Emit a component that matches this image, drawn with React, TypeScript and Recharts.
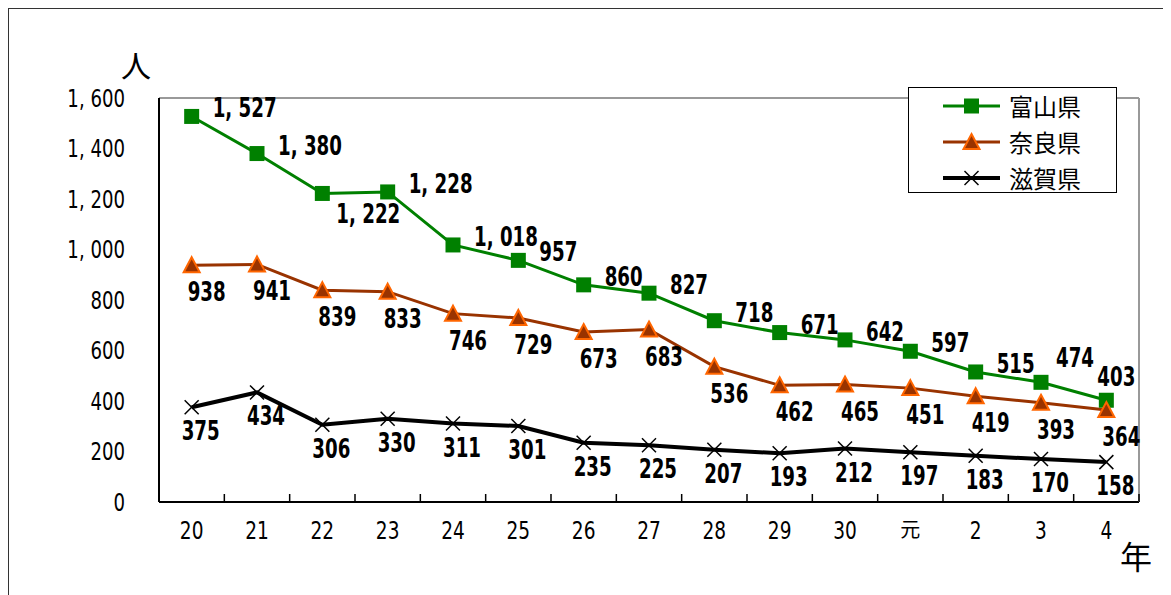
import { LineChart, Line, XAxis, YAxis, CartesianGrid, ReferenceLine, LabelList } from 'recharts';

const years = ['20', '21', '22', '23', '24', '25', '26', '27', '28', '29', '30', '元', '2', '3', '4'];
const toyama = [1527, 1380, 1222, 1228, 1018, 957, 860, 827, 718, 671, 642, 597, 515, 474, 403];
const nara = [938, 941, 839, 833, 746, 729, 673, 683, 536, 462, 465, 451, 419, 393, 364];
const shiga = [375, 434, 306, 330, 311, 301, 235, 225, 207, 193, 212, 197, 183, 170, 158];
const yTicks = [0, 200, 400, 600, 800, 1000, 1200, 1400, 1600];
const seriesNames = ['富山県', '奈良県', '滋賀県'];

const data = years.map((y, i) => ({ year: y, toyama: toyama[i], nara: nara[i], shiga: shiga[i] }));

const FONT = "'DejaVu Sans Condensed', 'DejaVu Sans', 'Noto Sans CJK JP', sans-serif";
const CJK = "'Noto Sans CJK JP', sans-serif";
const W = 1160;
const H = 587;
const M = { top: 89, right: 26, left: 0, bottom: 33 };
const Y_W = 150;
const PLOT_W = W - 3 - M.left - Y_W - M.right - 1;
const STEP = PLOT_W / years.length;

const GREEN = '#008000';
const BROWN = '#993300';
const ORANGE = '#ff6600';

const fmt = (v: number) => (v >= 1000 ? `${Math.floor(v / 1000)}, ${String(v % 1000).padStart(3, '0')}` : String(v));

// narrow text: the original uses a tall condensed face, so squeeze horizontally
function NText({ x, y, anchor, size, bold, sx, children }: any) {
  return (
    <text
      transform={`translate(${x},${y}) scale(${sx},1)`}
      textAnchor={anchor}
      dominantBaseline="central"
      fontFamily={FONT}
      fontWeight={bold ? 'bold' : 'normal'}
      fontSize={size}
      fill="#000"
    >
      {children}
    </text>
  );
}

function SquareDot({ cx, cy }: any) {
  return <rect x={cx - 7.5} y={cy - 7.5} width={15} height={15} fill={GREEN} />;
}

function TriDot({ cx, cy }: any) {
  return <path d={`M${cx},${cy - 8} L${cx + 8},${cy + 7} L${cx - 8},${cy + 7} Z`} fill={BROWN} stroke={ORANGE} strokeWidth={2} />;
}

function CrossDot({ cx, cy }: any) {
  return (
    <g stroke="#000" strokeWidth={1.5}>
      <line x1={cx - 7} y1={cy - 7} x2={cx + 7} y2={cy + 7} />
      <line x1={cx - 7} y1={cy + 7} x2={cx + 7} y2={cy - 7} />
    </g>
  );
}

const toyamaLabel = (props: any) => {
  const { x, y, value, index } = props;
  const n = toyama.length;
  const last = index === n - 1;
  const rising = !last && toyama[index + 1] >= value;
  if (last) return <NText x={x + 10} y={y - 23} anchor="middle" size={27} bold sx={0.75}>{fmt(value)}</NText>;
  if (rising) return <NText x={x + 14} y={y + 21} anchor="start" size={27} bold sx={0.75}>{fmt(value)}</NText>;
  // the one before the end label is lifted to clear it
  const dy = index === n - 2 ? -24 : -8;
  return <NText x={x + (index === n - 2 ? 15 : 21)} y={y + dy} anchor="start" size={27} bold sx={0.75}>{fmt(value)}</NText>;
};

const below = (dx: number, dy: number) => (props: any) => {
  const { x, y, value } = props;
  return <NText x={x + dx} y={y + dy} anchor="middle" size={27} bold sx={0.75}>{fmt(value)}</NText>;
};

function XTick({ x, y, payload }: any) {
  return (
    <g>
      <line x1={x + STEP / 2} y1={y} x2={x + STEP / 2} y2={y - 8} stroke="#000" strokeWidth={1.5} />
      <NText x={x} y={y + 28} anchor="middle" size={payload.value === '元' ? 20 : 24} sx={payload.value === '元' ? 1 : 0.86}>
        {payload.value}
      </NText>
    </g>
  );
}

function YTick({ x, y, payload }: any) {
  return <NText x={x} y={y} anchor="end" size={24} sx={0.84}>{fmt(payload.value)}</NText>;
}

function LegendRow({ name, i }: { name: string; i: number }) {
  const color = [GREEN, BROWN, '#000'][i];
  return (
    <div style={{ display: 'flex', alignItems: 'center', height: 36 }}>
      <svg width={66} height={24} style={{ marginLeft: 34 }}>
        <line x1={0} y1={12} x2={57} y2={12} stroke={color} strokeWidth={i === 2 ? 4 : 3} />
        {i === 0 && <rect x={21} y={4.5} width={15} height={15} fill={GREEN} />}
        {i === 1 && <path d="M28.5,4 L36.5,19 L20.5,19 Z" fill={BROWN} stroke={ORANGE} strokeWidth={2} />}
        {i === 2 && (
          <g stroke="#000" strokeWidth={1.5}>
            <line x1={21.5} y1={5} x2={35.5} y2={19} />
            <line x1={21.5} y1={19} x2={35.5} y2={5} />
          </g>
        )}
      </svg>
      <span style={{ fontFamily: CJK, fontSize: 24, lineHeight: '24px' }}>{name}</span>
    </div>
  );
}

export default function App() {
  return (
    <div style={{ position: 'relative', width: W, height: H, borderLeft: '1px solid #333', borderTop: '1px solid #333', borderRight: '2px solid #999', boxSizing: 'border-box', background: '#fff' }}>
      <div style={{ position: 'absolute', left: 0, top: 0 }}>
        <LineChart width={W - 3} height={H - 1} data={data} margin={M}>
          <CartesianGrid vertical={false} stroke="#404040" strokeWidth={1} />
          <XAxis
            dataKey="year"
            interval={0}
            padding={{ left: STEP / 2, right: STEP / 2 }}
            height={60}
            tickLine={false}
            tickSize={0}
            tickMargin={0}
            axisLine={{ stroke: '#000', strokeWidth: 2 }}
            tick={<XTick />}
          />
          <YAxis
            yAxisId="l"
            width={Y_W}
            domain={[0, 1600]}
            ticks={yTicks}
            tickLine={false}
            tickSize={0}
            tickMargin={34}
            axisLine={{ stroke: '#000', strokeWidth: 2 }}
            tick={<YTick />}
          />
          <YAxis yAxisId="r" orientation="right" width={1} domain={[0, 1600]} ticks={yTicks} tick={false} tickLine={false} axisLine={{ stroke: '#999', strokeWidth: 2 }} />
          <ReferenceLine yAxisId="l" y={1600} stroke="#999" strokeWidth={2} />
          <Line yAxisId="l" dataKey="toyama" name={seriesNames[0]} stroke={GREEN} strokeWidth={3} dot={<SquareDot />} isAnimationActive={false}>
            <LabelList dataKey="toyama" content={toyamaLabel} />
          </Line>
          <Line yAxisId="l" dataKey="nara" name={seriesNames[1]} stroke={BROWN} strokeWidth={3} dot={<TriDot />} isAnimationActive={false}>
            <LabelList dataKey="nara" content={below(15, 27)} />
          </Line>
          <Line yAxisId="l" dataKey="shiga" name={seriesNames[2]} stroke="#000" strokeWidth={4} dot={<CrossDot />} isAnimationActive={false}>
            <LabelList dataKey="shiga" content={below(9, 24)} />
          </Line>
        </LineChart>
      </div>
      <div style={{ position: 'absolute', left: 112, top: 40, fontFamily: CJK, fontSize: 30, lineHeight: '30px' }}>人</div>
      <div style={{ position: 'absolute', left: 1111, top: 530, fontFamily: CJK, fontSize: 32, lineHeight: '32px' }}>年</div>
      <div style={{ position: 'absolute', left: 899, top: 78, width: 209, height: 106, boxSizing: 'border-box', border: '1px solid #000', background: '#fff' }}>
        {seriesNames.map((n, i) => (
          <LegendRow key={n} name={n} i={i} />
        ))}
      </div>
    </div>
  );
}
